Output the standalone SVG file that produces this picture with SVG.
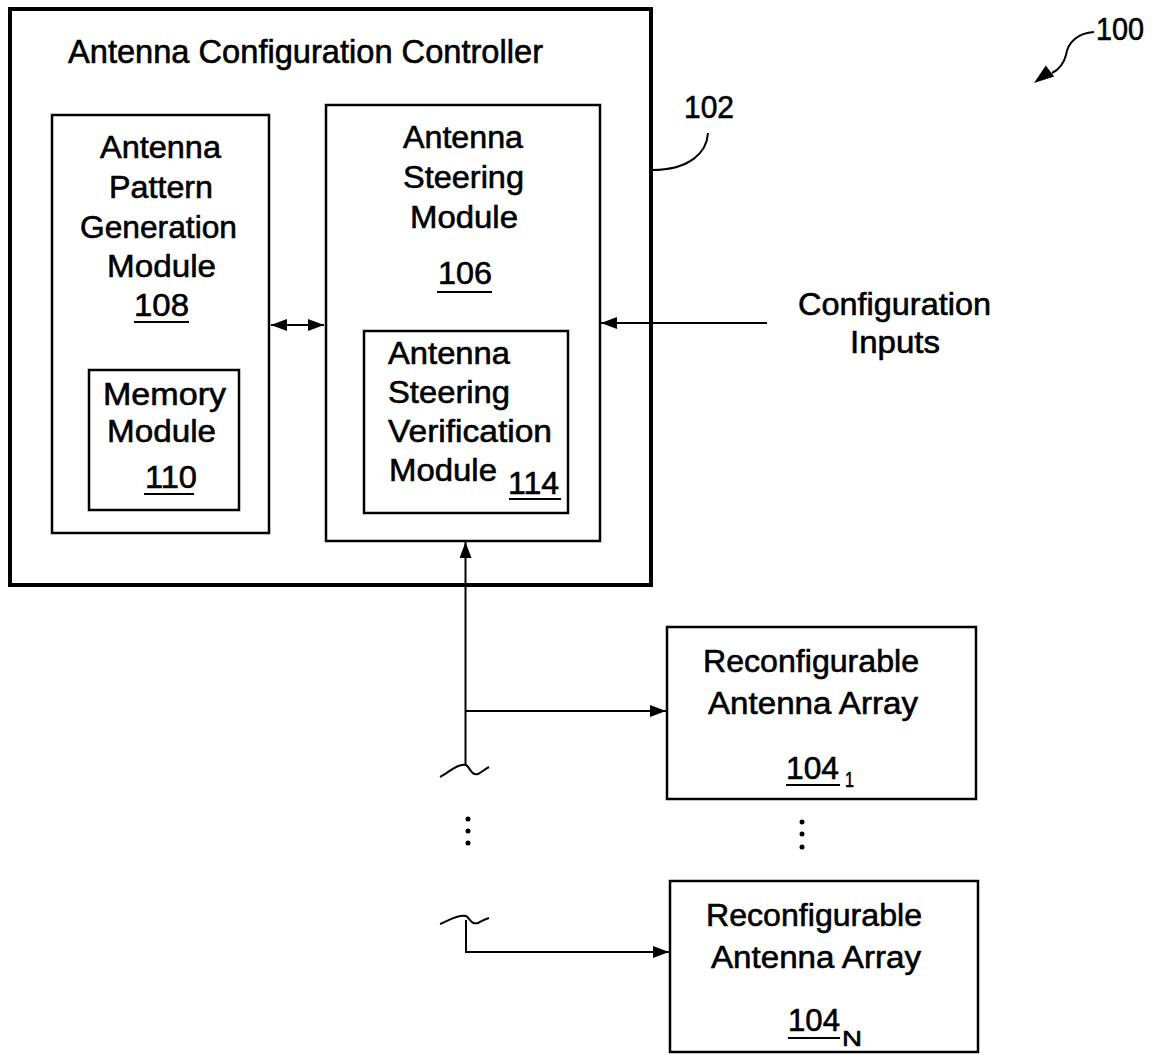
<svg xmlns="http://www.w3.org/2000/svg" width="1167" height="1057" viewBox="0 0 1167 1057">
<defs>
<style>
text{font-family:"Liberation Sans Narrow","Liberation Sans",Arial,sans-serif;font-size:32px;fill:#000;stroke:#000;stroke-width:0.6}
.t{font-size:33px}
.sub{font-size:22px}
.box{fill:none;stroke:#000;stroke-width:2.5}
.outer{fill:none;stroke:#000;stroke-width:4}
.ln{fill:none;stroke:#000;stroke-width:2}
.ul{stroke:#000;stroke-width:2}
</style>
<marker id="ah" viewBox="0 0 16 12" refX="16" refY="6" markerWidth="16" markerHeight="12" markerUnits="userSpaceOnUse" orient="auto-start-reverse">
<path d="M0,0 L16,6 L0,12 z" fill="#000"/>
</marker>
</defs>
<rect width="1167" height="1057" fill="#fff"/>

<g id="controller-102">
<rect class="outer" x="10" y="9" width="641" height="576"/>
<text class="t" x="68" y="63" textLength="475" lengthAdjust="spacingAndGlyphs">Antenna Configuration Controller</text>
<text x="684" y="118" textLength="50" lengthAdjust="spacingAndGlyphs">102</text>
</g>

<g id="pattern-108">
<rect class="box" x="52" y="115" width="217" height="418"/>
<text x="100" y="158" textLength="121" lengthAdjust="spacingAndGlyphs">Antenna</text>
<text x="109" y="198" textLength="104" lengthAdjust="spacingAndGlyphs">Pattern</text>
<text x="80" y="238" textLength="157" lengthAdjust="spacingAndGlyphs">Generation</text>
<text x="107" y="277" textLength="109" lengthAdjust="spacingAndGlyphs">Module</text>
<text x="134" y="316" textLength="55" lengthAdjust="spacingAndGlyphs">108</text>
<line class="ul" x1="134" y1="322" x2="189" y2="322"/>
</g>

<g id="memory-110">
<rect class="box" x="89" y="370" width="150" height="140"/>
<text x="103" y="405" textLength="123" lengthAdjust="spacingAndGlyphs">Memory</text>
<text x="107" y="442" textLength="109" lengthAdjust="spacingAndGlyphs">Module</text>
<text x="145" y="488" textLength="52" lengthAdjust="spacingAndGlyphs">110</text>
<line class="ul" x1="144" y1="494" x2="194" y2="494"/>
</g>

<g id="steering-106">
<rect class="box" x="326" y="105" width="274" height="436"/>
<text x="403" y="148" textLength="120" lengthAdjust="spacingAndGlyphs">Antenna</text>
<text x="403" y="188" textLength="121" lengthAdjust="spacingAndGlyphs">Steering</text>
<text x="410" y="228" textLength="108" lengthAdjust="spacingAndGlyphs">Module</text>
<text x="438" y="284" textLength="54" lengthAdjust="spacingAndGlyphs">106</text>
<line class="ul" x1="437" y1="292" x2="492" y2="292"/>
</g>

<g id="verification-114">
<rect class="box" x="364" y="331" width="204" height="182"/>
<text x="388" y="364" textLength="122" lengthAdjust="spacingAndGlyphs">Antenna</text>
<text x="388" y="403" textLength="122" lengthAdjust="spacingAndGlyphs">Steering</text>
<text x="388" y="442" textLength="164" lengthAdjust="spacingAndGlyphs">Verification</text>
<text x="389" y="481" textLength="108" lengthAdjust="spacingAndGlyphs">Module</text>
<text x="508" y="494" textLength="51" lengthAdjust="spacingAndGlyphs">114</text>
<line class="ul" x1="509" y1="499" x2="561" y2="499"/>
</g>

<g id="config-inputs">
<text x="798" y="315" textLength="193" lengthAdjust="spacingAndGlyphs">Configuration</text>
<text x="850" y="353" textLength="90" lengthAdjust="spacingAndGlyphs">Inputs</text>
</g>

<g id="array-104-1">
<rect class="box" x="667" y="627" width="309" height="172"/>
<text x="703" y="672" textLength="216" lengthAdjust="spacingAndGlyphs">Reconfigurable</text>
<text x="708" y="714" textLength="210" lengthAdjust="spacingAndGlyphs">Antenna Array</text>
<text x="786" y="779" textLength="53" lengthAdjust="spacingAndGlyphs">104</text>
<line class="ul" x1="786" y1="785" x2="840" y2="785"/>
<text class="sub" x="845" y="787" textLength="9" lengthAdjust="spacingAndGlyphs">1</text>
</g>

<g id="array-104-N">
<rect class="box" x="670" y="881" width="308" height="171"/>
<text x="706" y="926" textLength="216" lengthAdjust="spacingAndGlyphs">Reconfigurable</text>
<text x="711" y="968" textLength="210" lengthAdjust="spacingAndGlyphs">Antenna Array</text>
<text x="788" y="1031" textLength="52" lengthAdjust="spacingAndGlyphs">104</text>
<line class="ul" x1="788" y1="1038" x2="840" y2="1038"/>
<text class="sub" x="842" y="1046" textLength="20" lengthAdjust="spacingAndGlyphs">N</text>
</g>

<g id="label-100">
<text x="1096" y="40" textLength="48" lengthAdjust="spacingAndGlyphs">100</text>
</g>

<g id="connectors">
<line class="ln" x1="271" y1="325" x2="324" y2="325" marker-start="url(#ah)" marker-end="url(#ah)"/>
<line class="ln" x1="767" y1="323" x2="601" y2="323" marker-end="url(#ah)"/>
<line class="ln" x1="465.5" y1="765" x2="465.5" y2="542" marker-end="url(#ah)"/>
<line class="ln" x1="465.5" y1="711" x2="666" y2="711" marker-end="url(#ah)"/>
<path class="ln" d="M440,777 C448,773 458,763 466,765 C470,767 471,776 478,774 C482,772 485,769 489,767"/>
<path class="ln" d="M440,924 C448,921 458,914 466,916 C470,918 471,925 478,923 C482,921 485,919 489,918"/>
<path class="ln" d="M466,920 V952 H669" marker-end="url(#ah)"/>
<path class="ln" d="M708,133 C707,152 690,170 652,170"/>
<path class="ln" d="M1094,32 C1078,33 1068,42 1066,55 C1064,63 1060,69 1052,73"/>
<polygon points="1034,83 1045.8,65.4 1054.2,76.6" fill="#000"/>
<circle cx="468" cy="819" r="2.5"/>
<circle cx="468" cy="831" r="2.5"/>
<circle cx="468" cy="843" r="2.5"/>
<circle cx="802" cy="822" r="2.5"/>
<circle cx="802" cy="834" r="2.5"/>
<circle cx="802" cy="847" r="2.5"/>
</g>
</svg>
